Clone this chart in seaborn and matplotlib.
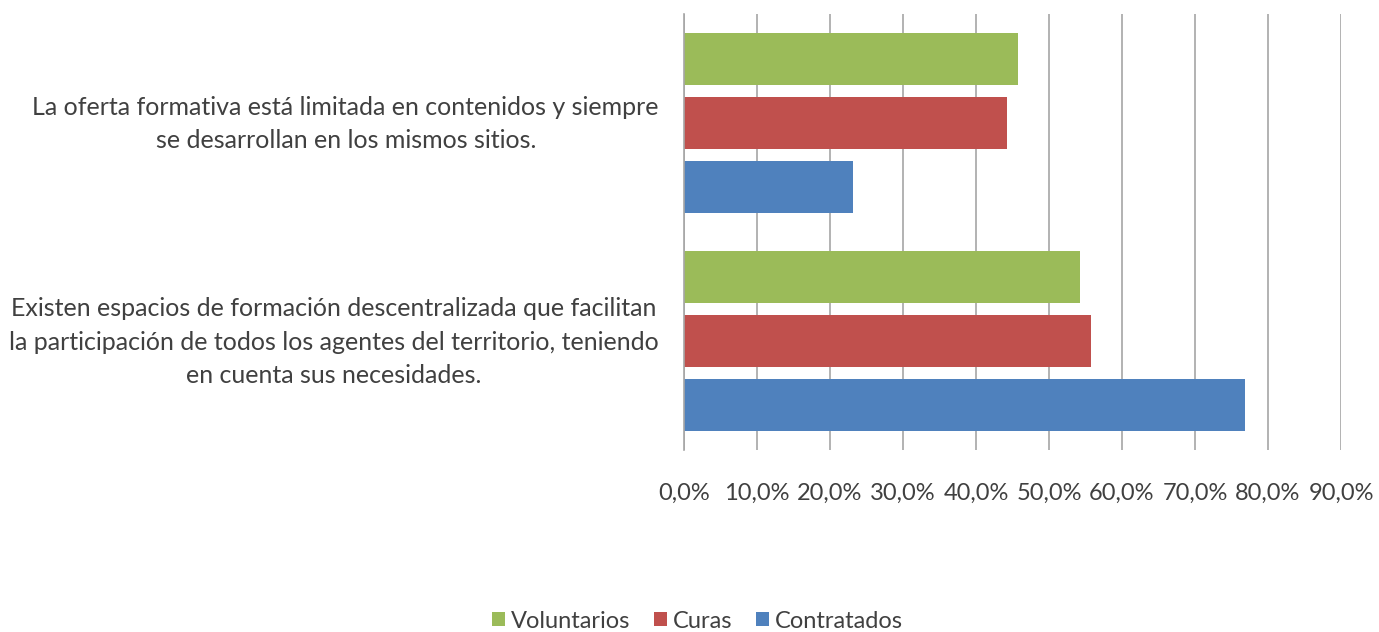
import matplotlib
matplotlib.use("Agg")
import matplotlib.pyplot as plt
import seaborn as sns
import pandas as pd

categories = [
    "La oferta formativa está limitada en contenidos y siempre\nse desarrollan en los mismos sitios.",
    "Existen espacios de formación descentralizada que facilitan\nla participación de todos los agentes del territorio, teniendo\nen cuenta sus necesidades.",
]
series_names = ["Voluntarios", "Curas", "Contratados"]
voluntarios = [45.7, 54.2]
curas = [44.3, 55.7]
contratados = [23.1, 76.8]
x_ticks = [0, 10, 20, 30, 40, 50, 60, 70, 80, 90]
x_tick_labels = ["0,0%", "10,0%", "20,0%", "30,0%", "40,0%", "50,0%", "60,0%", "70,0%", "80,0%", "90,0%"]

colors = {"Voluntarios": "#9BBB59", "Curas": "#C0504D", "Contratados": "#4F81BD"}

rows = []
for name, vals in zip(series_names, [voluntarios, curas, contratados]):
    for cat, v in zip(categories, vals):
        rows.append({"cat": cat, "serie": name, "valor": v})
df = pd.DataFrame(rows)

sns.set_style("white")
plt.rcParams["font.family"] = ["Lato", "DejaVu Sans"]
text_color = "#404040"

fig = plt.figure(figsize=(13.79, 6.32), dpi=100)
ax = fig.add_axes([684 / 1379, 1 - 450 / 632, (1341 - 684) / 1379, (450 - 14) / 632])

sns.barplot(data=df, y="cat", x="valor", hue="serie", hue_order=series_names,
            order=categories, palette=colors, orient="h", width=0.88, gap=0.19,
            edgecolor="none", linewidth=0, saturation=1, ax=ax, legend=True)

ax.set_xlim(0, 90)
ax.set_ylim(1.5, -0.5)
ax.set_xticks(x_ticks)
ax.set_xticklabels(x_tick_labels, color=text_color, fontsize=17)
ax.set_xlabel("")
ax.set_ylabel("")
# nudge label block slightly upward to match the reference's vertical centring
ax.set_yticks([i - 0.028 for i in range(len(categories))])
ax.set_yticklabels(categories, fontsize=18, color=text_color,
                   multialignment="center", linespacing=1.55)
ax.tick_params(axis="x", length=0, pad=24)
ax.tick_params(axis="y", length=0, pad=18)
ax.grid(axis="x", color="#A6A6A6", linewidth=1.2)
ax.set_axisbelow(True)
for s in ax.spines.values():
    s.set_visible(False)
ax.spines["left"].set_visible(True)
ax.spines["left"].set_color("#A6A6A6")
ax.spines["left"].set_linewidth(1.2)

handles, labels = ax.get_legend_handles_labels()
ax.get_legend().remove()
fig.legend(handles, labels, loc="center", bbox_to_anchor=(0.506, 1 - 621 / 632), ncol=3,
           frameon=False, fontsize=17, handlelength=0.55, handleheight=0.55,
           handletextpad=0.25, columnspacing=1.0, labelcolor=text_color)

fig.savefig("out.png", dpi=100)
